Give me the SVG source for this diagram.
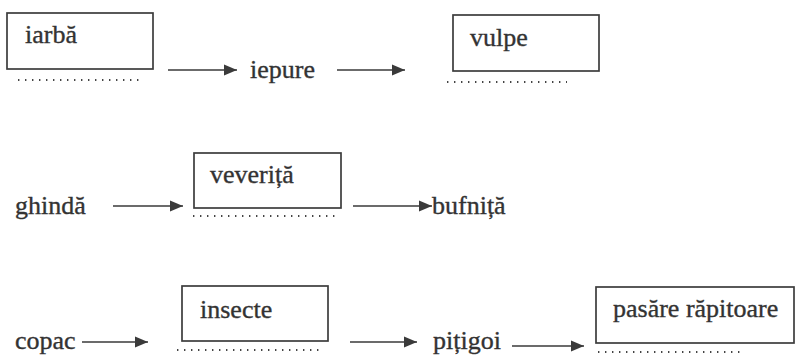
<svg xmlns="http://www.w3.org/2000/svg" width="796" height="358" viewBox="0 0 796 358">
<style>
.box{fill:none;stroke:#3c3c3c;stroke-width:1.7}
.dots{fill:none;stroke:#444;stroke-width:1.8;stroke-dasharray:1.4 5.6}
.arr{fill:none;stroke:#3a3a3a;stroke-width:1.7;marker-end:url(#ah)}
.t{font-family:'Liberation Serif','Times New Roman',serif;font-size:26px;fill:#333;stroke:#333;stroke-width:0.35}
</style>
<defs>
<marker id="ah" markerUnits="userSpaceOnUse" markerWidth="14" markerHeight="12" refX="13" refY="6" orient="auto">
<path d="M0,0.5 L13,6 L0,11.5 Z" fill="#3a3a3a"/>
</marker>
</defs>
<rect width="796" height="358" fill="#fff"/>
<g id="connectors">
<line class="arr" x1="168" y1="70" x2="237" y2="70"/>
<line class="arr" x1="337" y1="70" x2="405" y2="70"/>
<line class="arr" x1="113" y1="206" x2="183" y2="206"/>
<line class="arr" x1="353" y1="206" x2="432" y2="206"/>
<line class="arr" x1="82" y1="342" x2="148" y2="342"/>
<line class="arr" x1="350" y1="342" x2="417" y2="342"/>
<line class="arr" x1="512" y1="346" x2="584" y2="346"/>
</g>
<g id="iarba">
<rect class="box" x="7" y="13" width="146" height="56"/>
<text class="t" x="25" y="43">iarbă</text>
<line class="dots" x1="18" y1="80" x2="142" y2="80"/>
</g>
<g id="iepure"><text class="t" x="250" y="78">iepure</text></g>
<g id="vulpe">
<rect class="box" x="453" y="15" width="146" height="56"/>
<text class="t" x="470" y="46">vulpe</text>
<line class="dots" x1="447" y1="82" x2="567" y2="82"/>
</g>
<g id="ghinda"><text class="t" x="15" y="214">ghindă</text></g>
<g id="veverita">
<rect class="box" x="194" y="153" width="147" height="55"/>
<text class="t" x="210" y="183">veveriță</text>
<line class="dots" x1="193" y1="216" x2="340" y2="216"/>
</g>
<g id="bufnita"><text class="t" x="432" y="214">bufniță</text></g>
<g id="copac"><text class="t" x="15" y="349">copac</text></g>
<g id="insecte">
<rect class="box" x="182" y="286" width="146" height="55"/>
<text class="t" x="200" y="318">insecte</text>
<line class="dots" x1="177" y1="350" x2="323" y2="350"/>
</g>
<g id="pitigoi"><text class="t" x="433" y="349">pițigoi</text></g>
<g id="pasare">
<rect class="box" x="596" y="287" width="198" height="56"/>
<text class="t" x="613" y="317">pasăre răpitoare</text>
<line class="dots" x1="598" y1="352" x2="745" y2="352"/>
</g>
</svg>
